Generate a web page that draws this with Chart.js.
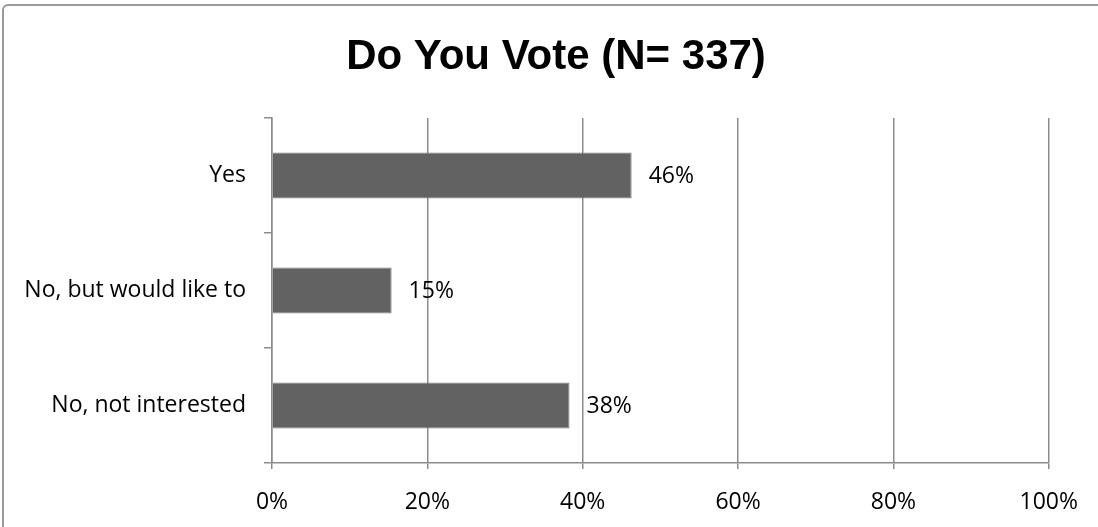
<!DOCTYPE html>
<html>
<head>
<meta charset="utf-8">
<script src="https://cdn.jsdelivr.net/npm/chart.js@4/dist/chart.umd.min.js"></script>
<style>
    html, body { margin: 0; padding: 0; background: #fff; overflow: hidden; }
    #wrap { position: relative; width: 1098px; height: 527px; }
    #frame {
        position: absolute; left: 2px; top: 4px; width: 1200px; height: 700px;
        border: 2px solid #999; border-radius: 6px; pointer-events: none;
    }
</style>
</head>
<body>
<div id="wrap">
    <canvas id="myChart" width="1098" height="527"></canvas>
    <div id="frame"></div>
</div>
<script>
// answers and share of respondents (N = 337)
const categories = ['Yes', 'No, but would like to', 'No, not interested'];
const shares = [46.3, 15.4, 38.3];
const tick_values = [0, 20, 40, 60, 80, 100];
const chart_title = 'Do You Vote (N= 337)';

const label_font = { family: "'Open Sans', 'Liberation Sans', sans-serif", size: 23 };

// draws "46%" etc. right of each bar
const bar_labels = {
    id: 'bar_labels',
    afterDatasetsDraw(chart) {
        const ctx = chart.ctx;
        const meta = chart.getDatasetMeta(0);
        ctx.save();
        ctx.font = `${label_font.size}px ${label_font.family}`;
        ctx.fillStyle = '#000';
        ctx.textAlign = 'left';
        ctx.textBaseline = 'middle';
        meta.data.forEach((bar, i) => {
            ctx.fillText(Math.round(shares[i]) + '%', bar.x + 17, bar.y + 1);
        });
        ctx.restore();
    }
};

// title sits a bit right of the canvas centre in the original, so draw it by hand
const title_text = {
    id: 'title_text',
    afterDraw(chart) {
        const ctx = chart.ctx;
        ctx.save();
        ctx.font = "bold 42px 'Liberation Sans', Arial, sans-serif";
        ctx.fillStyle = '#000';
        ctx.textAlign = 'center';
        ctx.textBaseline = 'middle';
        ctx.fillText(chart_title, chart.width / 2 + 7, 57);
        ctx.restore();
    }
};

new Chart(document.getElementById('myChart').getContext('2d'), {
    type: 'bar',
    data: {
        labels: categories,
        datasets: [{
            data: shares,
            backgroundColor: '#626262',
            borderColor: '#7c7c7c',
            borderWidth: 1,
            categoryPercentage: 1,
            barPercentage: 0.4
        }]
    },
    options: {
        indexAxis: 'y',
        responsive: false,
        animation: false,
        layout: { padding: { left: 0, right: 49, top: 118, bottom: 0 } },
        plugins: {
            legend: { display: false },
            tooltip: { enabled: false },
            title: { display: false }
        },
        scales: {
            x: {
                min: 0,
                max: 100,
                afterBuildTicks: scale => {
                    scale.ticks = tick_values.map(v => ({ value: v }));
                },
                afterFit: scale => { scale.height = 64; },
                border: { color: '#8c8c8c', width: 1.5 },
                grid: { color: '#8c8c8c', lineWidth: 1.5, tickLength: 6 },
                ticks: {
                    color: '#000',
                    font: label_font,
                    padding: 20,
                    callback: v => v + '%'
                }
            },
            y: {
                afterFit: scale => { scale.width = 272; },
                border: { color: '#8c8c8c', width: 1.5 },
                grid: { color: '#8c8c8c', lineWidth: 1.5, drawOnChartArea: false, tickLength: 8, offset: true },
                ticks: {
                    color: '#000',
                    font: label_font,
                    padding: 18
                }
            }
        }
    },
    plugins: [bar_labels, title_text]
});
</script>
</body>
</html>
